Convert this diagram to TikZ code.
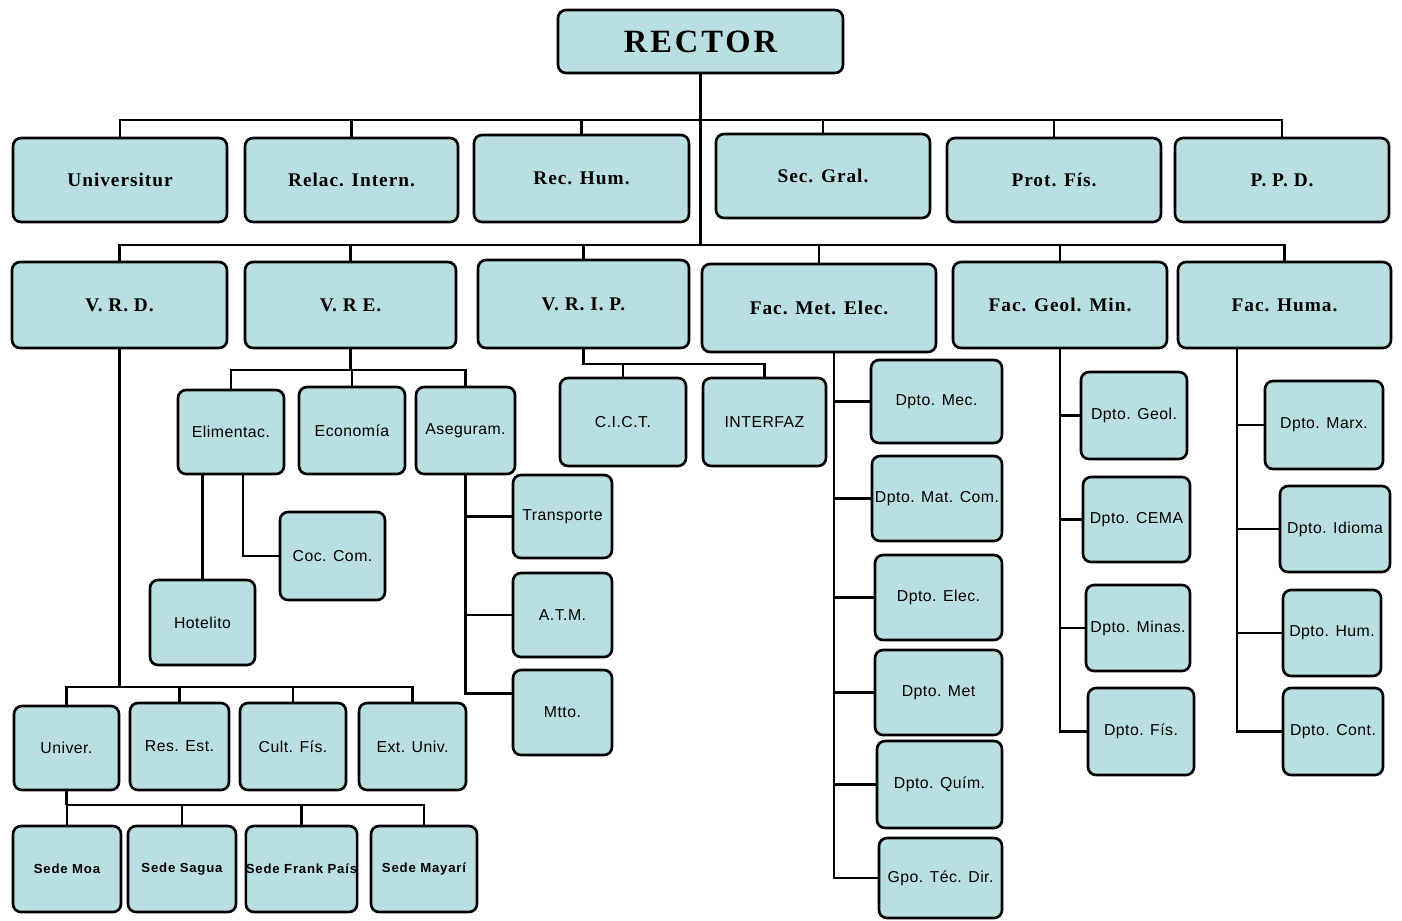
\documentclass[tikz,border=0pt]{standalone}
\usepackage{xcolor}
\usepackage{fontspec}
\setmainfont{Liberation Serif}
\setsansfont{Liberation Sans}
\usepackage{tikz}

\definecolor{boxfill}{RGB}{186,223,226}

\begin{document}
\begin{tikzpicture}[x=0.02cm, y=-0.02cm]
            \tikzstyle{unit} = [draw=black, line width=1.5pt, fill=boxfill, rounded corners=0.16cm, inner sep=0pt, align=center]
            \tikzstyle{head} = [unit, font=\bfseries\addfontfeatures{LetterSpace=5}\fontsize{11}{13}\selectfont]
            \tikzstyle{dept} = [unit, font=\sffamily\addfontfeatures{LetterSpace=3}\fontsize{9}{11}\selectfont]
            \tikzstyle{sede} = [unit, font=\sffamily\bfseries\addfontfeatures{LetterSpace=6}\fontsize{7.5}{9}\selectfont]
            \tikzstyle{link} = [line width=1.4pt]
            \useasboundingbox (0,0) rectangle (1402,920);

            \node [unit, minimum width=5.7cm, minimum height=1.26cm, font=\bfseries\addfontfeatures{LetterSpace=9}\fontsize{18.5}{22}\selectfont] (R) at (700.5,41.5) {RECTOR};

            % staff offices
            \node [head, minimum width=4.28cm, minimum height=1.68cm] (A1) at (120,180) {Universitur};
            \node [head, minimum width=4.26cm, minimum height=1.68cm] (A2) at (351.5,180) {Relac. Intern.};
            \node [head, minimum width=4.3cm, minimum height=1.74cm] (A3) at (581.5,178.5) {Rec. Hum.};
            \node [head, minimum width=4.28cm, minimum height=1.68cm] (A4) at (823,176) {Sec. Gral.};
            \node [head, minimum width=4.28cm, minimum height=1.68cm] (A5) at (1054,180) {Prot. Fís.};
            \node [head, minimum width=4.28cm, minimum height=1.68cm] (A6) at (1282,180) {P. P. D.};

            % vice rectors and faculties
            \node [head, minimum width=4.3cm, minimum height=1.72cm] (B1) at (119.5,305) {V. R. D.};
            \node [head, minimum width=4.22cm, minimum height=1.72cm] (B2) at (350.5,305) {V. R E.};
            \node [head, minimum width=4.22cm, minimum height=1.76cm] (B3) at (583.5,304) {V. R. I. P.};
            \node [head, minimum width=4.68cm, minimum height=1.76cm] (B4) at (819,308) {Fac. Met. Elec.};
            \node [head, minimum width=4.28cm, minimum height=1.72cm] (B5) at (1060,305) {Fac. Geol. Min.};
            \node [head, minimum width=4.26cm, minimum height=1.72cm] (B6) at (1284.5,305) {Fac. Huma.};

            % V. R. D.
            \node [dept, minimum width=2.1cm, minimum height=1.68cm] (D1) at (66.5,748) {Univer.};
            \node [dept, minimum width=1.98cm, minimum height=1.74cm] (D2) at (179.5,746.5) {Res. Est.};
            \node [dept, minimum width=2.12cm, minimum height=1.74cm] (D3) at (293,746.5) {Cult. Fís.};
            \node [dept, minimum width=2.14cm, minimum height=1.74cm] (D4) at (412.5,746.5) {Ext. Univ.};
            \node [sede, minimum width=2.16cm, minimum height=1.72cm] (S1) at (67,869) {Sede Moa};
            \node [sede, minimum width=2.16cm, minimum height=1.72cm] (S2) at (182,869) {Sede Sagua};
            \node [sede, minimum width=2.14cm, minimum height=1.72cm] (S3) at (301.5,869) {Sede Frank País};
            \node [sede, minimum width=2.12cm, minimum height=1.72cm] (S4) at (424,869) {Sede Mayarí};

            % V. R E.
            \node [dept, minimum width=2.12cm, minimum height=1.68cm] (E1) at (231,432) {Elimentac.};
            \node [dept, minimum width=2.12cm, minimum height=1.74cm] (E2) at (352,430.5) {Economía};
            \node [dept, minimum width=1.98cm, minimum height=1.74cm] (E3) at (465.5,430.5) {Aseguram.};
            \node [dept, minimum width=2.1cm, minimum height=1.7cm] (E4) at (202.5,622.5) {Hotelito};
            \node [dept, minimum width=2.1cm, minimum height=1.76cm] (E5) at (332.5,556) {Coc. Com.};
            \node [dept, minimum width=1.98cm, minimum height=1.66cm] (E6) at (562.5,516.5) {Transporte};
            \node [dept, minimum width=1.98cm, minimum height=1.68cm] (E7) at (562.5,615) {A.T.M.};
            \node [dept, minimum width=1.98cm, minimum height=1.7cm] (E8) at (562.5,712.5) {Mtto.};

            % V. R. I. P.
            \node [dept, minimum width=2.52cm, minimum height=1.76cm] (I1) at (623,422) {C.I.C.T.};
            \node [dept, minimum width=2.46cm, minimum height=1.76cm] (I2) at (764.5,422) {INTERFAZ};

            % Fac. Met. Elec.
            \node [dept, minimum width=2.62cm, minimum height=1.66cm] (M1) at (936.5,401.5) {Dpto. Mec.};
            \node [dept, minimum width=2.6cm, minimum height=1.7cm] (M2) at (937,498.5) {Dpto. Mat. Com.};
            \node [dept, minimum width=2.54cm, minimum height=1.7cm] (M3) at (938.5,597.5) {Dpto. Elec.};
            \node [dept, minimum width=2.54cm, minimum height=1.7cm] (M4) at (938.5,692.5) {Dpto. Met};
            \node [dept, minimum width=2.5cm, minimum height=1.74cm] (M5) at (939.5,784.5) {Dpto. Quím.};
            \node [dept, minimum width=2.46cm, minimum height=1.6cm] (M6) at (940.5,878) {Gpo. Téc. Dir.};

            % Fac. Geol. Min.
            \node [dept, minimum width=2.12cm, minimum height=1.74cm] (G1) at (1134,415.5) {Dpto. Geol.};
            \node [dept, minimum width=2.14cm, minimum height=1.7cm] (G2) at (1136.5,519.5) {Dpto. CEMA};
            \node [dept, minimum width=2.08cm, minimum height=1.72cm] (G3) at (1138,628) {Dpto. Minas.};
            \node [dept, minimum width=2.12cm, minimum height=1.74cm] (G4) at (1141,731.5) {Dpto. Fís.};

            % Fac. Huma.
            \node [dept, minimum width=2.36cm, minimum height=1.76cm] (H1) at (1324,425) {Dpto. Marx.};
            \node [dept, minimum width=2.2cm, minimum height=1.72cm] (H2) at (1335,529) {Dpto. Idioma};
            \node [dept, minimum width=1.96cm, minimum height=1.72cm] (H3) at (1332,633) {Dpto. Hum.};
            \node [dept, minimum width=2.0cm, minimum height=1.74cm] (H4) at (1333,731.5) {Dpto. Cont.};

            \coordinate (bus1) at (0,120);
            \coordinate (bus2) at (0,245);
            \coordinate (bus3) at (0,687);
            \coordinate (bus4) at (0,805);
            \coordinate (bus5) at (0,370);
            \coordinate (bus6) at (0,364);
            \coordinate (Mtrunk) at ([xshift=0.3cm]B4.south);
            \coordinate (Htrunk) at ([xshift=-0.95cm]B6.south);

            \draw [link] (R.south) -- (R.south |- bus2);
            \draw [link] (A1.north) -- (A1.north |- bus1) -- (A6.north |- bus1) -- (A6.north);
            \draw [link] (A2.north) -- (A2.north |- bus1);
            \draw [link] (A3.north) -- (A3.north |- bus1);
            \draw [link] (A4.north) -- (A4.north |- bus1);
            \draw [link] (A5.north) -- (A5.north |- bus1);

            \draw [link] (B1.north) -- (B1.north |- bus2) -- (B6.north |- bus2) -- (B6.north);
            \draw [link] (B2.north) -- (B2.north |- bus2);
            \draw [link] (B3.north) -- (B3.north |- bus2);
            \draw [link] (B4.north) -- (B4.north |- bus2);
            \draw [link] (B5.north) -- (B5.north |- bus2);

            \draw [link] (B1.south) -- (B1.south |- bus3);
            \draw [link] (D1.north) -- (D1.north |- bus3) -- (D4.north |- bus3) -- (D4.north);
            \draw [link] (D2.north) -- (D2.north |- bus3);
            \draw [link] (D3.north) -- (D3.north |- bus3);
            \draw [link] (D1.south) -- (D1.south |- bus4);
            \draw [link] (S1.north) -- (S1.north |- bus4) -- (S4.north |- bus4) -- (S4.north);
            \draw [link] (S2.north) -- (S2.north |- bus4);
            \draw [link] (S3.north) -- (S3.north |- bus4);

            \draw [link] (B2.south) -- (B2.south |- bus5);
            \draw [link] (E1.north) -- (E1.north |- bus5) -- (E3.north |- bus5) -- (E3.north);
            \draw [link] (E2.north) -- (E2.north |- bus5);
            \draw [link] (E4.north) -- (E4.north |- E1.south);
            \draw [link] (E5.west) -| ([xshift=0.24cm]E1.south);
            \draw [link] (E3.south) |- ([yshift=0.38cm]E8.west);
            \draw [link] (E6.west) -- (E6.west -| E3.south);
            \draw [link] (E7.west) -- (E7.west -| E3.south);

            \draw [link] (B3.south) -- (B3.south |- bus6) -- (I2.north |- bus6) -- (I2.north);
            \draw [link] (I1.north) -- (I1.north |- bus6);

            \draw [link] (Mtrunk) |- (M6.west);
            \draw [link] (M1.west) -- (M1.west -| Mtrunk);
            \draw [link] (M2.west) -- (M2.west -| Mtrunk);
            \draw [link] (M3.west) -- (M3.west -| Mtrunk);
            \draw [link] (M4.west) -- (M4.west -| Mtrunk);
            \draw [link] (M5.west) -- (M5.west -| Mtrunk);

            \draw [link] (B5.south) |- (G4.west);
            \draw [link] (G1.west) -- (G1.west -| B5.south);
            \draw [link] (G2.west) -- (G2.west -| B5.south);
            \draw [link] (G3.west) -- (G3.west -| B5.south);

            \draw [link] (Htrunk) |- (H4.west);
            \draw [link] (H1.west) -- (H1.west -| Htrunk);
            \draw [link] (H2.west) -- (H2.west -| Htrunk);
            \draw [link] (H3.west) -- (H3.west -| Htrunk);
        \end{tikzpicture}
\end{document}
